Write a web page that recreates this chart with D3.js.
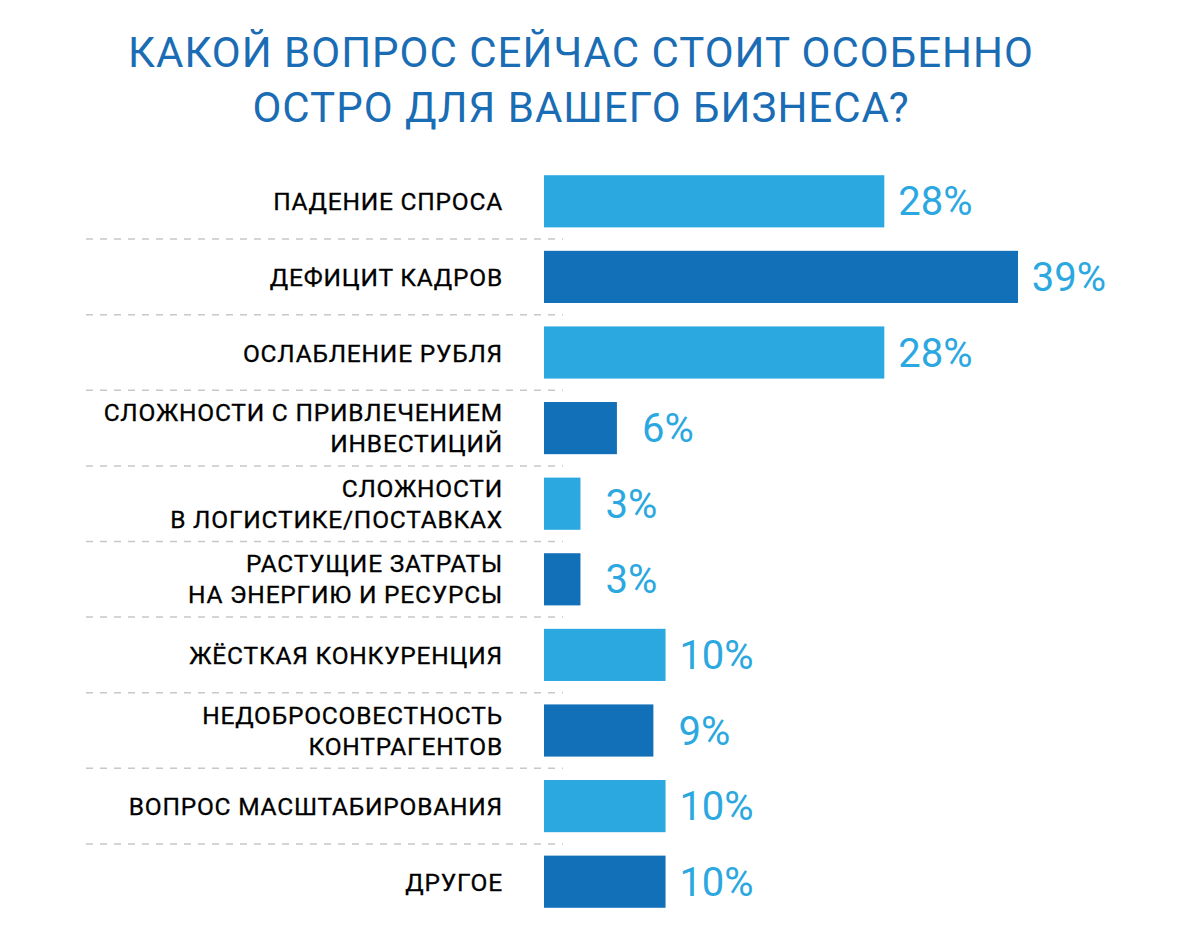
<!DOCTYPE html>
<html>
<head>
<meta charset="utf-8">
<script src="https://cdn.jsdelivr.net/npm/d3@7"></script>
<style>
  body { margin: 0; background: #fff; }
  svg { display: block; }
</style>
</head>
<body>
<div id="chart"></div>
<script>
var titleLines = ["КАКОЙ ВОПРОС СЕЙЧАС СТОИТ ОСОБЕННО", "ОСТРО ДЛЯ ВАШЕГО БИЗНЕСА?"];

var categories = [
  ["ПАДЕНИЕ СПРОСА"],
  ["ДЕФИЦИТ КАДРОВ"],
  ["ОСЛАБЛЕНИЕ РУБЛЯ"],
  ["СЛОЖНОСТИ С ПРИВЛЕЧЕНИЕМ", "ИНВЕСТИЦИЙ"],
  ["СЛОЖНОСТИ", "В ЛОГИСТИКЕ/ПОСТАВКАХ"],
  ["РАСТУЩИЕ ЗАТРАТЫ", "НА ЭНЕРГИЮ И РЕСУРСЫ"],
  ["ЖЁСТКАЯ КОНКУРЕНЦИЯ"],
  ["НЕДОБРОСОВЕСТНОСТЬ", "КОНТРАГЕНТОВ"],
  ["ВОПРОС МАСШТАБИРОВАНИЯ"],
  ["ДРУГОЕ"]
];

var values = [28, 39, 28, 6, 3, 3, 10, 9, 10, 10];

var width = 1200, height = 946;
var light = "#2ba8e0", dark = "#1270b8";

var svg = d3.select("#chart")
  .append("svg")
  .attr("width", width)
  .attr("height", height);

var rows = categories.map(function (c, i) {
  return { key: i, lines: c, value: values[i] };
});

var y = d3.scaleBand()
  .domain(rows.map(function (d) { return d.key; }))
  .range([163.5, 919.5])
  .paddingInner(0.31)
  .paddingOuter(0.155);

var x = d3.scaleLinear().domain([0, 39]).range([544, 1018]);

// title
svg.append("g")
  .selectAll("text")
  .data(titleLines)
  .enter()
  .append("text")
  .attr("x", 581)
  .attr("y", function (d, i) { return 67 + i * 55; })
  .attr("text-anchor", "middle")
  .attr("fill", "#1a6db4")
  .style("font-family", "Roboto, sans-serif")
  .style("font-size", "42px")
  .style("letter-spacing", "1px")
  .text(function (d) { return d; });

// dashed separators
var step = y.step();
svg.append("g")
  .selectAll("line")
  .data(rows.slice(0, -1))
  .enter()
  .append("line")
  .attr("x1", 86)
  .attr("x2", 563)
  .attr("y1", function (d) { return y(d.key) + y.bandwidth() + (step - y.bandwidth()) / 2; })
  .attr("y2", function (d) { return y(d.key) + y.bandwidth() + (step - y.bandwidth()) / 2; })
  .attr("stroke", "#c8c8c8")
  .attr("stroke-width", 1.5)
  .attr("stroke-dasharray", "7,7");

// bars
svg.append("g")
  .selectAll("rect")
  .data(rows)
  .enter()
  .append("rect")
  .attr("x", x(0))
  .attr("y", function (d) { return y(d.key); })
  .attr("width", function (d) { return x(d.value) - x(0); })
  .attr("height", y.bandwidth())
  .attr("fill", function (d, i) { return i % 2 == 0 ? light : dark; });

// value labels
svg.append("g")
  .selectAll("text")
  .data(rows)
  .enter()
  .append("text")
  .attr("x", function (d) { return x(d.value) + 51; })
  .attr("y", function (d) { return y(d.key) + y.bandwidth() / 2 + 14; })
  .attr("text-anchor", "middle")
  .attr("fill", light)
  .style("font-family", "Roboto, sans-serif")
  .style("font-size", "40px")
  .text(function (d) { return d.value + "%"; });

// category labels
var labels = svg.append("g")
  .selectAll("text")
  .data(rows)
  .enter()
  .append("text")
  .attr("text-anchor", "end")
  .attr("fill", "#000")
  .style("font-family", "Roboto, sans-serif")
  .style("font-size", "24.5px")
  .style("letter-spacing", "0.8px")
  .style("stroke", "#000")
  .style("stroke-width", "0.3px")
  .attr("y", function (d) {
    var mid = y(d.key) + y.bandwidth() / 2;
    return mid + 9 - (d.lines.length - 1) * 16;
  });

labels.selectAll("tspan")
  .data(function (d) { return d.lines; })
  .enter()
  .append("tspan")
  .attr("x", 503)
  .attr("dy", function (d, i) { return i == 0 ? 0 : 31; })
  .text(function (d) { return d; });
</script>
</body>
</html>
